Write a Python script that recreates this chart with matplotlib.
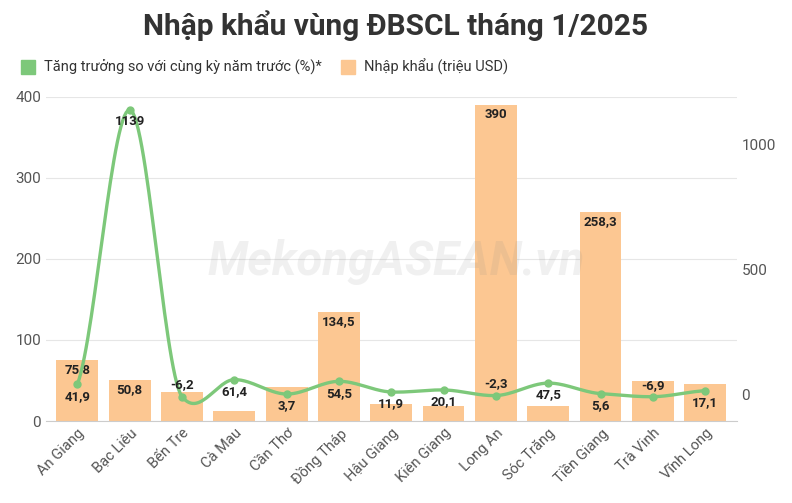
import matplotlib
matplotlib.use("Agg")
import matplotlib.pyplot as plt
import numpy as np
from matplotlib.lines import Line2D

plt.rcParams['font.family'] = ['Roboto', 'DejaVu Sans']

provinces = ["An Giang", "Bạc Liêu", "Bến Tre", "Cà Mau", "Cần Thơ", "Đồng Tháp", "Hậu Giang",
             "Kiên Giang", "Long An", "Sóc Trăng", "Tiền Giang", "Trà Vinh", "Vĩnh Long"]
imports = [75.8, 50.8, 36, 12, 42, 134.5, 21, 18.5, 390, 18.5, 258.3, 49, 46]
import_labels = ["75,8", "50,8", "", "", "", "134,5", "", "", "390", "", "258,3", "", ""]
growth = [41.9, 1139, -6.2, 61.4, 3.7, 54.5, 11.9, 20.1, -2.3, 47.5, 5.6, -6.9, 17.1]
growth_labels = ["41,9", "1139", "-6,2", "61,4", "3,7", "54,5", "11,9", "20,1", "-2,3", "47,5", "5,6", "-6,9", "17,1"]

bar_c = "#fcc792"
line_c = "#7dc87a"

fig = plt.figure(figsize=(7.92, 5.03), dpi=100)
ax = fig.add_axes([0.058, 0.163, 0.872, 0.645])
ax2 = ax.twinx()
x = np.arange(len(provinces))
ax.bar(x, imports, width=0.8, color=bar_c, zorder=2)
for xi, v, l in zip(x, imports, import_labels):
    if l:
        ax.text(xi, v - 4, l, ha='center', va='top', fontsize=9.5, fontweight='bold', color='#222')
ax.set_ylim(0, 400)
ax.set_xlim(-0.6, 12.6)
ax.set_yticks([0, 100, 200, 300, 400])
ax.grid(axis='y', color='#e6e6e6', lw=0.8, zorder=0)
ax.set_axisbelow(True)

def spline(xs, ys, k=0.25, n=30):
    xs = np.asarray(xs, float); ys = np.asarray(ys, float)
    N = len(xs)
    m = np.zeros(N)
    for i in range(N):
        a = max(i - 1, 0); b = min(i + 1, N - 1)
        m[i] = (ys[b] - ys[a]) / (xs[b] - xs[a]) * 2 * k
    px, py = [], []
    for i in range(N - 1):
        h = xs[i+1] - xs[i]
        for t in np.linspace(0, 1, n, endpoint=False):
            h00 = 2*t**3 - 3*t**2 + 1; h10 = t**3 - 2*t**2 + t
            h01 = -2*t**3 + 3*t**2; h11 = t**3 - t**2
            px.append(xs[i] + t*h)
            py.append(h00*ys[i] + h10*h*m[i] + h01*ys[i+1] + h11*h*m[i+1])
    px.append(xs[-1]); py.append(ys[-1])
    return px, py
sx, sy = spline(x, growth)
ax2.plot(sx, sy, color=line_c, lw=2.4, zorder=3)
ax2.plot(x, growth, 'o', color=line_c, ms=5, zorder=4)
for xi, v, l in zip(x, growth, growth_labels):
    if v < 0:
        ax2.text(xi, v + 20, l, ha='center', va='bottom', fontsize=9.5, fontweight='bold', color='#222')
    else:
        ax2.text(xi, v - 22, l, ha='center', va='top', fontsize=9.5, fontweight='bold', color='#222')
ax2.set_ylim(-104, 1192)
ax2.set_yticks([0, 500, 1000])

for a in (ax, ax2):
    for s in a.spines.values():
        s.set_visible(False)
    a.tick_params(length=0, labelsize=11, colors='#555')
ax.spines['bottom'].set_visible(True)
ax.spines['bottom'].set_color('#ccc')
ax.set_xticks(x)
ax.set_xticklabels(provinces, rotation=45, ha='right', rotation_mode='anchor', fontsize=10.5, color='#555')

fig.text(0.5, 0.95, "Nhập khẩu vùng ĐBSCL tháng 1/2025", ha='center', va='center',
         fontsize=21.5, fontweight='bold', color='#333')
fig.text(0.5, 0.48, "MekongASEAN.vn", ha='center', va='center', fontsize=34, fontweight='bold',
         fontstyle='italic', color='#888', alpha=0.12)

handles = [Line2D([], [], marker='s', ls='none', ms=10, color=line_c),
           Line2D([], [], marker='s', ls='none', ms=10, color=bar_c)]
fig.legend(handles, ["Tăng trưởng so với cùng kỳ năm trước (%)*", "Nhập khẩu (triệu USD)"],
           loc='center left', bbox_to_anchor=(0.0, 0.867), ncol=2, frameon=False, fontsize=10.5,
           handletextpad=0.1, columnspacing=0.8, labelcolor='#333')
fig.savefig("out.png", dpi=100)
